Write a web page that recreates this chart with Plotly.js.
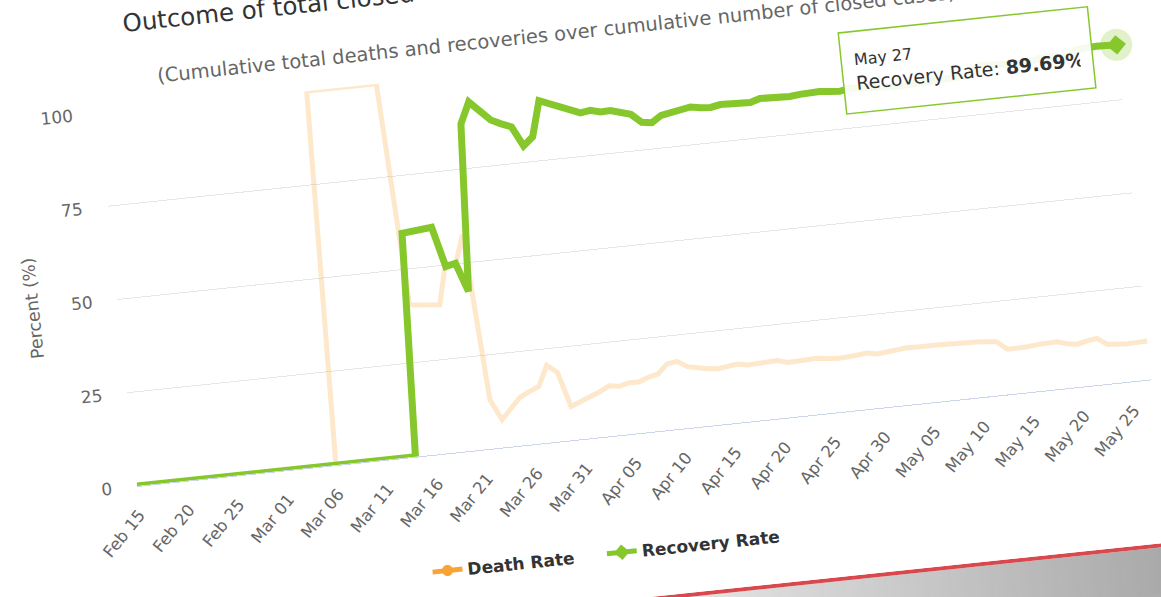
<!DOCTYPE html>
<html>
<head>
<meta charset="utf-8">
<script src="https://cdn.plot.ly/plotly-3.0.1.min.js"></script>
<style>
html, body { margin:0; padding:0; width:1161px; height:597px; overflow:hidden; background:#ffffff; }
#frame { position:absolute; left:27px; top:-9px; width:1200px; height:720px;
         transform-origin:110px 495px; transform:rotate(-6deg); }
#shadow { position:absolute; left:430px; top:600px; width:820px; height:120px;
          background:linear-gradient(to right, rgba(70,70,70,0), rgba(70,70,70,0.22) 40%, rgba(70,70,70,0.55));
          filter:blur(5px); }
#card { position:absolute; left:0; top:0; width:1200px; height:659px; background:#ffffff;
        border-bottom:4px solid #d9484c; }
#chart { width:1200px; height:659px; }
</style>
</head>
<body>
<div id="frame">
  <div id="shadow"></div>
  <div id="card"><div id="chart"></div></div>
</div>
<script>
const dates = ["Feb 15","Feb 16","Feb 17","Feb 18","Feb 19","Feb 20","Feb 21","Feb 22","Feb 23","Feb 24","Feb 25","Feb 26","Feb 27","Feb 28","Feb 29",
"Mar 01","Mar 02","Mar 03","Mar 04","Mar 05","Mar 06","Mar 07","Mar 08","Mar 09","Mar 10","Mar 11","Mar 12","Mar 13","Mar 14","Mar 15","Mar 16","Mar 17","Mar 18","Mar 19","Mar 20","Mar 21","Mar 22","Mar 23","Mar 24","Mar 25","Mar 26","Mar 27","Mar 28","Mar 29","Mar 30","Mar 31",
"Apr 01","Apr 02","Apr 03","Apr 04","Apr 05","Apr 06","Apr 07","Apr 08","Apr 09","Apr 10","Apr 11","Apr 12","Apr 13","Apr 14","Apr 15","Apr 16","Apr 17","Apr 18","Apr 19","Apr 20","Apr 21","Apr 22","Apr 23","Apr 24","Apr 25","Apr 26","Apr 27","Apr 28","Apr 29","Apr 30",
"May 01","May 02","May 03","May 04","May 05","May 06","May 07","May 08","May 09","May 10","May 11","May 12","May 13","May 14","May 15","May 16","May 17","May 18","May 19","May 20","May 21","May 22","May 23","May 24","May 25","May 26","May 27"];

const deathRate = [0,0,0,0,0,0,0,0,0,0,0,0,0,0,0,0,0,0,0,0,0,
100,100,100,100,100,100,100,100,
40.4,40.2,39.8,39.6,50.4,49.8,57.6,13.0,7.4,10.0,12.8,14.1,15.2,20.6,18.4,9.0,10.0,11.0,12.1,13.4,13.0,13.7,13.6,14.6,15.2,17.6,18.0,16.3,15.7,15.2,14.9,15.4,15.6,15.1,15.3,15.5,15.4,14.6,14.8,14.7,14.9,14.6,14.3,14.4,14.7,14.9,14.4,14.6,15.1,15.2,15.1,15.2,15.1,15.0,15.0,15.0,14.8,14.6,14.3,12.0,12.0,12.1,12.4,12.5,12.6,11.8,11.4,12.0,12.4,10.5,10.2,10.1,10.2,10.31];

const recoveryRate = [0,0,0,0,0,0,0,0,0,0,0,0,0,0,0,0,0,0,0,0,0,0,0,0,0,0,0,0,0,
59.6,59.8,60.2,60.4,49.6,50.2,42.4,87.0,92.6,90.0,87.2,85.9,84.8,79.4,81.6,91.0,90.0,89.0,87.9,86.6,87.0,86.3,86.4,85.4,84.8,82.4,82.0,83.7,84.3,84.8,85.1,84.6,84.4,84.9,84.7,84.5,84.6,85.4,85.2,85.3,85.1,85.4,85.7,85.6,85.3,85.1,85.6,85.4,84.9,84.8,84.9,84.8,84.9,85.0,85.0,85.0,85.2,85.4,85.7,88.0,88.0,87.9,87.6,87.5,87.4,88.2,88.6,88.0,87.6,89.5,89.8,89.9,89.8,89.69];

const tickLabels = ["Feb 15","Feb 20","Feb 25","Mar 01","Mar 06","Mar 11","Mar 16","Mar 21","Mar 26","Mar 31","Apr 05","Apr 10","Apr 15","Apr 20","Apr 25","Apr 30","May 05","May 10","May 15","May 20","May 25"];
const yTicks = [0, 25, 50, 75, 100];

const titleText = "Outcome of total closed cases (recovery rate vs death rate)";
const subtitleText = "(Cumulative total deaths and recoveries over cumulative number of closed cases)";
const seriesNames = ["Death Rate", "Recovery Rate"];

const GREEN = "#86c82c";
const ORANGE = "#f7a335";
const FONT = "DejaVu Sans, sans-serif";

const lastIdx = dates.length - 1;
const lastDate = dates[lastIdx];
const lastRec = recoveryRate[lastIdx];

const traces = [
  { x: dates, y: deathRate, type: "scatter", mode: "lines", showlegend: false, cliponaxis: false,
    line: { color: "rgba(247,163,53,0.25)", width: 5 }, hoverinfo: "skip" },
  { x: dates, y: recoveryRate, type: "scatter", mode: "lines", showlegend: false, cliponaxis: false,
    line: { color: GREEN, width: 7 }, hoverinfo: "skip" },
  { x: [lastDate], y: [lastRec], type: "scatter", mode: "markers", showlegend: false, cliponaxis: false,
    marker: { symbol: "circle", size: 32, color: "rgba(134,200,44,0.25)" }, hoverinfo: "skip" },
  { x: [lastDate], y: [lastRec], type: "scatter", mode: "markers", showlegend: false, cliponaxis: false,
    marker: { symbol: "diamond", size: 15, color: GREEN }, hoverinfo: "skip" },
  { x: [null], y: [null], type: "scatter", mode: "lines+markers", name: seriesNames[0], legend: "legend",
    line: { color: ORANGE, width: 5 }, marker: { symbol: "circle", size: 11, color: ORANGE } },
  { x: [null], y: [null], type: "scatter", mode: "lines+markers", name: seriesNames[1], legend: "legend2",
    line: { color: GREEN, width: 5 }, marker: { symbol: "diamond", size: 12, color: GREEN } }
];

const legendFont = { size: 17, color: "#333333", family: FONT, weight: "bold" };

const layout = {
  width: 1200, height: 659,
  margin: { l: 110, r: 70, t: 120, b: 164 },
  paper_bgcolor: "#ffffff", plot_bgcolor: "#ffffff",
  font: { family: FONT, color: "#666666" },
  hovermode: false,
  xaxis: {
    type: "category", categoryorder: "array", categoryarray: dates,
    range: [0, lastIdx], tickvals: tickLabels, ticktext: tickLabels,
    tickangle: -45, tickfont: { size: 16.5, color: "#666666", family: FONT },
    showgrid: false, zeroline: false, showline: true, linecolor: "#ccd6eb", linewidth: 1,
    ticks: "", ticklabelstandoff: 12, fixedrange: true
  },
  yaxis: {
    range: [0, 100], tickvals: yTicks, ticktext: yTicks.map(String),
    tickfont: { size: 17, color: "#666666", family: FONT },
    showgrid: true, gridcolor: "#e6e6e6", gridwidth: 1, zeroline: false, showline: false,
    ticks: "", ticklabelstandoff: 24, fixedrange: true,
    title: { text: "Percent (%)", font: { size: 17.5, color: "#666666", family: FONT }, standoff: 16 }
  },
  legend: {
    orientation: "h", x: 0.2745, xanchor: "left", y: -0.312, yanchor: "middle",
    font: legendFont, bgcolor: "rgba(0,0,0,0)", itemwidth: 30
  },
  legend2: {
    orientation: "h", x: 0.4463, xanchor: "left", y: -0.312, yanchor: "middle",
    font: legendFont, bgcolor: "rgba(0,0,0,0)", itemwidth: 30
  },
  annotations: [
    { text: titleText, xref: "paper", yref: "paper", x: 0.031, y: 1.232, xanchor: "left", yanchor: "middle",
      showarrow: false, font: { size: 24.5, color: "#333333", family: FONT } },
    { text: subtitleText, xref: "paper", yref: "paper", x: 0.06, y: 1.082, xanchor: "left", yanchor: "middle",
      showarrow: false, font: { size: 19.5, color: "#666666", family: FONT } },
    { text: "<span style=\"font-size:16px\">" + lastDate.replace(" 0", " ") + "</span><br>" + seriesNames[1] + ": <b>" + lastRec.toFixed(2) + "%</b>",
      xref: "x", yref: "y", x: lastDate, y: lastRec, showarrow: true, ax: -150, ay: 0,
      arrowhead: 0, arrowwidth: 1.5, arrowcolor: GREEN, standoff: 9,
      width: 225, height: 56, borderpad: 12, align: "left", valign: "middle",
      bgcolor: "rgba(255,255,255,0.92)", bordercolor: GREEN, borderwidth: 1.5,
      font: { size: 19, color: "#333333", family: FONT } }
  ]
};

Plotly.newPlot("chart", traces, layout, { staticPlot: true, displayModeBar: false });
</script>
</body>
</html>
